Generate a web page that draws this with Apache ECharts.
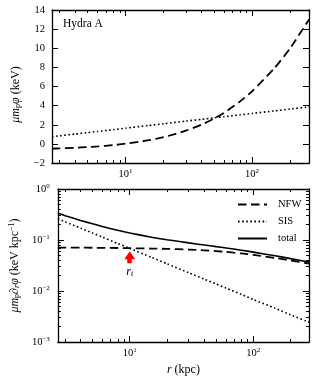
<!DOCTYPE html>
<html><head><meta charset="utf-8">
<script src="https://cdn.jsdelivr.net/npm/echarts@6/dist/echarts.min.js"></script>
<style>html,body{margin:0;padding:0;background:#fff}#c{width:315px;height:380px}</style>
</head><body><div id="c"></div>
<script>
// radius (kpc)
const r = [2.62, 3, 4, 5, 6, 8, 10, 15, 20, 30, 40, 50, 60, 80, 100, 150, 200, 282];
// top panel: potential (keV)
const phiNFW = [-0.50, -0.47, -0.41, -0.34, -0.27, -0.13, 0.02, 0.36, 0.70, 1.38, 2.02, 2.64, 3.24, 4.42, 5.50, 7.90, 10.0, 13.0];
const phiSIS = [0.75, 0.84, 1.03, 1.18, 1.30, 1.49, 1.64, 1.91, 2.11, 2.38, 2.57, 2.72, 2.84, 3.03, 3.18, 3.45, 3.64, 3.87];
// bottom panel: gradient (keV/kpc)
const gNFW = [0.071, 0.071, 0.0708, 0.0705, 0.0702, 0.0697, 0.069, 0.068, 0.067, 0.065, 0.0628, 0.0605, 0.0585, 0.0545, 0.051, 0.0445, 0.0398, 0.0345];
const gSIS = [0.262, 0.228, 0.171, 0.137, 0.114, 0.0855, 0.0685, 0.0456, 0.0342, 0.0228, 0.0171, 0.0137, 0.0114, 0.0086, 0.0068, 0.0046, 0.0034, 0.00245];
const gTotal = [0.333, 0.299, 0.242, 0.208, 0.184, 0.155, 0.1375, 0.1136, 0.1012, 0.0878, 0.0799, 0.0742, 0.0699, 0.0631, 0.0578, 0.0491, 0.0432, 0.0370];
// r_t arrow
const arrowR = [10, 10];
const arrowY = [0.035, 0.05];
// ticks
const xMajor = [10, 100];
const xMajorLabels = ['10{s|1}', '10{s|2}'];
const xMinor = [3, 4, 5, 6, 7, 8, 9, 20, 30, 40, 50, 60, 70, 80, 90, 200];
const yLogMajor = [0.001, 0.01, 0.1, 1];
const yLogMajorLabels = ['10{s|−3}', '10{s|−2}', '10{s|−1}', '10{s|0}'];
const yLogMinor = [0.002,0.003,0.004,0.005,0.006,0.007,0.008,0.009,0.02,0.03,0.04,0.05,0.06,0.07,0.08,0.09,0.2,0.3,0.4,0.5,0.6,0.7,0.8,0.9];

const F = 'Liberation Serif';
const black = '#000';
const pair = (xs, ys) => xs.map((x, i) => [x, ys[i]]);
const richSup = { s: { fontSize: 7, fontFamily: F, color: black, verticalAlign: 'top', padding: [0, 0, 5, 0] } };
const tickLine = { color: black, width: 1 };
const frameLine = { show: true, onZero: false, lineStyle: { color: black, width: 1.3 } };
const noLine = { show: false, onZero: false };

function xAxes(grid, withName) {
  const base = { type: 'log', logBase: 10, min: 2.62, max: 282, gridIndex: grid, splitLine: { show: false } };
  return [
    Object.assign({}, base, {
      position: 'bottom',
      axisLine: frameLine,
      axisTick: { show: true, inside: true, length: 6, customValues: xMajor, lineStyle: tickLine },
      axisLabel: { show: true, customValues: xMajor, margin: 5, color: black, fontFamily: F, fontSize: 10.5,
        formatter: v => { const k = xMajor.findIndex(t => Math.abs(t - v) / t < 1e-6); return k >= 0 ? xMajorLabels[k] : ''; }, rich: richSup },
      name: withName ? '{i|r} (kpc)' : '', nameLocation: 'middle', nameGap: 22,
      nameTextStyle: { color: black, fontFamily: F, fontSize: 12, rich: { i: { fontStyle: 'italic', fontFamily: F, fontSize: 12 } } }
    }),
    Object.assign({}, base, {
      position: 'bottom', axisLine: noLine,
      axisTick: { show: true, inside: true, length: 3, customValues: xMinor, lineStyle: tickLine },
      axisLabel: { show: false }
    }),
    Object.assign({}, base, {
      position: 'top',
      axisLine: frameLine,
      axisTick: { show: true, inside: true, length: 6, customValues: xMajor, lineStyle: tickLine },
      axisLabel: { show: false }
    }),
    Object.assign({}, base, {
      position: 'top', axisLine: noLine,
      axisTick: { show: true, inside: true, length: 3, customValues: xMinor, lineStyle: tickLine },
      axisLabel: { show: false }
    })
  ];
}

const nameRich = {
  i: { fontStyle: 'italic', fontFamily: F, fontSize: 12, color: black },
  sub: { fontFamily: F, fontSize: 8, color: black, verticalAlign: 'bottom', padding: [5, 0, 0, 0] },
  isub: { fontStyle: 'italic', fontFamily: F, fontSize: 8, color: black, verticalAlign: 'bottom', padding: [5, 0, 0, 0] },
  sup: { fontFamily: F, fontSize: 8, color: black, verticalAlign: 'top', padding: [0, 0, 5, 0] }
};

const linTop = { type: 'value', min: -2, max: 14, interval: 2, gridIndex: 0, splitLine: { show: false } };
const logBot = { type: 'log', logBase: 10, min: 0.001, max: 1, gridIndex: 1, splitLine: { show: false } };

const yAxis = [
  Object.assign({}, linTop, {
    position: 'left',
    axisLine: frameLine,
    axisTick: { show: true, inside: true, length: 6, lineStyle: tickLine },
    axisLabel: { color: black, fontFamily: F, fontSize: 10.5, margin: 7, formatter: v => v < 0 ? '−' + (-v) : String(v) },
    name: '{i|μm}{sub|p}{i|φ} (keV)', nameLocation: 'middle', nameGap: 30, nameRotate: 90,
    nameTextStyle: { color: black, fontFamily: F, fontSize: 12, rich: nameRich, padding: [0, 16, 0, 0] }
  }),
  Object.assign({}, linTop, {
    position: 'right',
    axisLine: frameLine,
    axisTick: { show: true, inside: true, length: 6, lineStyle: tickLine },
    axisLabel: { show: false }
  }),
  Object.assign({}, logBot, {
    position: 'left',
    axisLine: frameLine,
    axisTick: { show: true, inside: true, length: 6, customValues: yLogMajor, lineStyle: tickLine },
    axisLabel: { customValues: yLogMajor, color: black, fontFamily: F, fontSize: 10.5, margin: 8,
      formatter: v => { const k = yLogMajor.findIndex(t => Math.abs(t - v) / t < 1e-6); return k >= 0 ? yLogMajorLabels[k] : ''; }, rich: richSup },
    name: '{i|μm}{sub|p}∂{isub|r}{i|φ} (keV kpc{sup|−1})', nameLocation: 'middle', nameGap: 36, nameRotate: 90,
    nameTextStyle: { color: black, fontFamily: F, fontSize: 12, rich: nameRich }
  }),
  Object.assign({}, logBot, {
    position: 'left', axisLine: noLine,
    axisTick: { show: true, inside: true, length: 3, customValues: yLogMinor, lineStyle: tickLine },
    axisLabel: { show: false }
  }),
  Object.assign({}, logBot, {
    position: 'right',
    axisLine: frameLine,
    axisTick: { show: true, inside: true, length: 6, customValues: yLogMajor, lineStyle: tickLine },
    axisLabel: { show: false }
  }),
  Object.assign({}, logBot, {
    position: 'right', axisLine: noLine,
    axisTick: { show: true, inside: true, length: 3, customValues: yLogMinor, lineStyle: tickLine },
    axisLabel: { show: false }
  })
];

const dashed = { color: black, width: 1.8, type: [8.5, 4.5] };
const dotted = { color: black, width: 1.6, type: [1.6, 2.5] };
const solid = { color: black, width: 1.6, type: 'solid' };
const common = { type: 'line', symbol: 'none', smooth: 0.2, animation: false, silent: true };

const option = {
  animation: false,
  backgroundColor: '#fff',
  title: { text: 'Hydra A', left: 58, top: 13, textStyle: { fontFamily: F, fontSize: 11.5, fontWeight: 'normal', color: black } },
  legend: {
    left: 232, top: 194, orient: 'vertical', itemWidth: 29, itemHeight: 12, itemGap: 6,
    data: ['NFW', 'SIS', 'total'],
    itemStyle: { opacity: 0 },
    textStyle: { fontFamily: F, fontSize: 10.5, color: black, padding: [0, 0, 0, 6] }
  },
  grid: [
    { left: 52, top: 10, width: 257, height: 153 },
    { left: 52, top: 189, width: 257, height: 153 }
  ],
  xAxis: xAxes(0, false).concat(xAxes(1, true)),
  yAxis: yAxis,
  series: [
    Object.assign({}, common, { name: 'NFW', xAxisIndex: 0, yAxisIndex: 0, data: pair(r, phiNFW), lineStyle: dashed, itemStyle: { color: black } }),
    Object.assign({}, common, { name: 'SIS', xAxisIndex: 0, yAxisIndex: 0, data: pair(r, phiSIS), lineStyle: dotted, itemStyle: { color: black } }),
    Object.assign({}, common, { name: 'NFW', xAxisIndex: 4, yAxisIndex: 2, data: pair(r, gNFW), lineStyle: dashed, itemStyle: { color: black },
      markLine: {
        silent: true, animation: false, symbol: ['none', 'triangle'], symbolSize: [11, 8],
        lineStyle: { color: '#ff0000', width: 4.5, type: 'solid' }, itemStyle: { color: '#ff0000' },
        label: { show: true, position: 'start', distance: 2, formatter: '{i|r}{sub|t}', color: black,
          rich: { i: { fontStyle: 'italic', fontFamily: F, fontSize: 12, color: black },
                  sub: { fontStyle: 'italic', fontFamily: F, fontSize: 8, color: black, verticalAlign: 'bottom', padding: [5, 0, 0, 0] } } },
        data: [[{ coord: [arrowR[0], arrowY[0]] }, { coord: [arrowR[1], arrowY[1]] }]]
      } }),
    Object.assign({}, common, { name: 'SIS', xAxisIndex: 4, yAxisIndex: 2, data: pair(r, gSIS), lineStyle: dotted, itemStyle: { color: black } }),
    Object.assign({}, common, { name: 'total', xAxisIndex: 4, yAxisIndex: 2, data: pair(r, gTotal), lineStyle: solid, itemStyle: { color: black } })
  ]
};
const chart = echarts.init(document.getElementById('c'), null, { renderer: 'canvas' });
chart.setOption(option);
</script></body></html>
